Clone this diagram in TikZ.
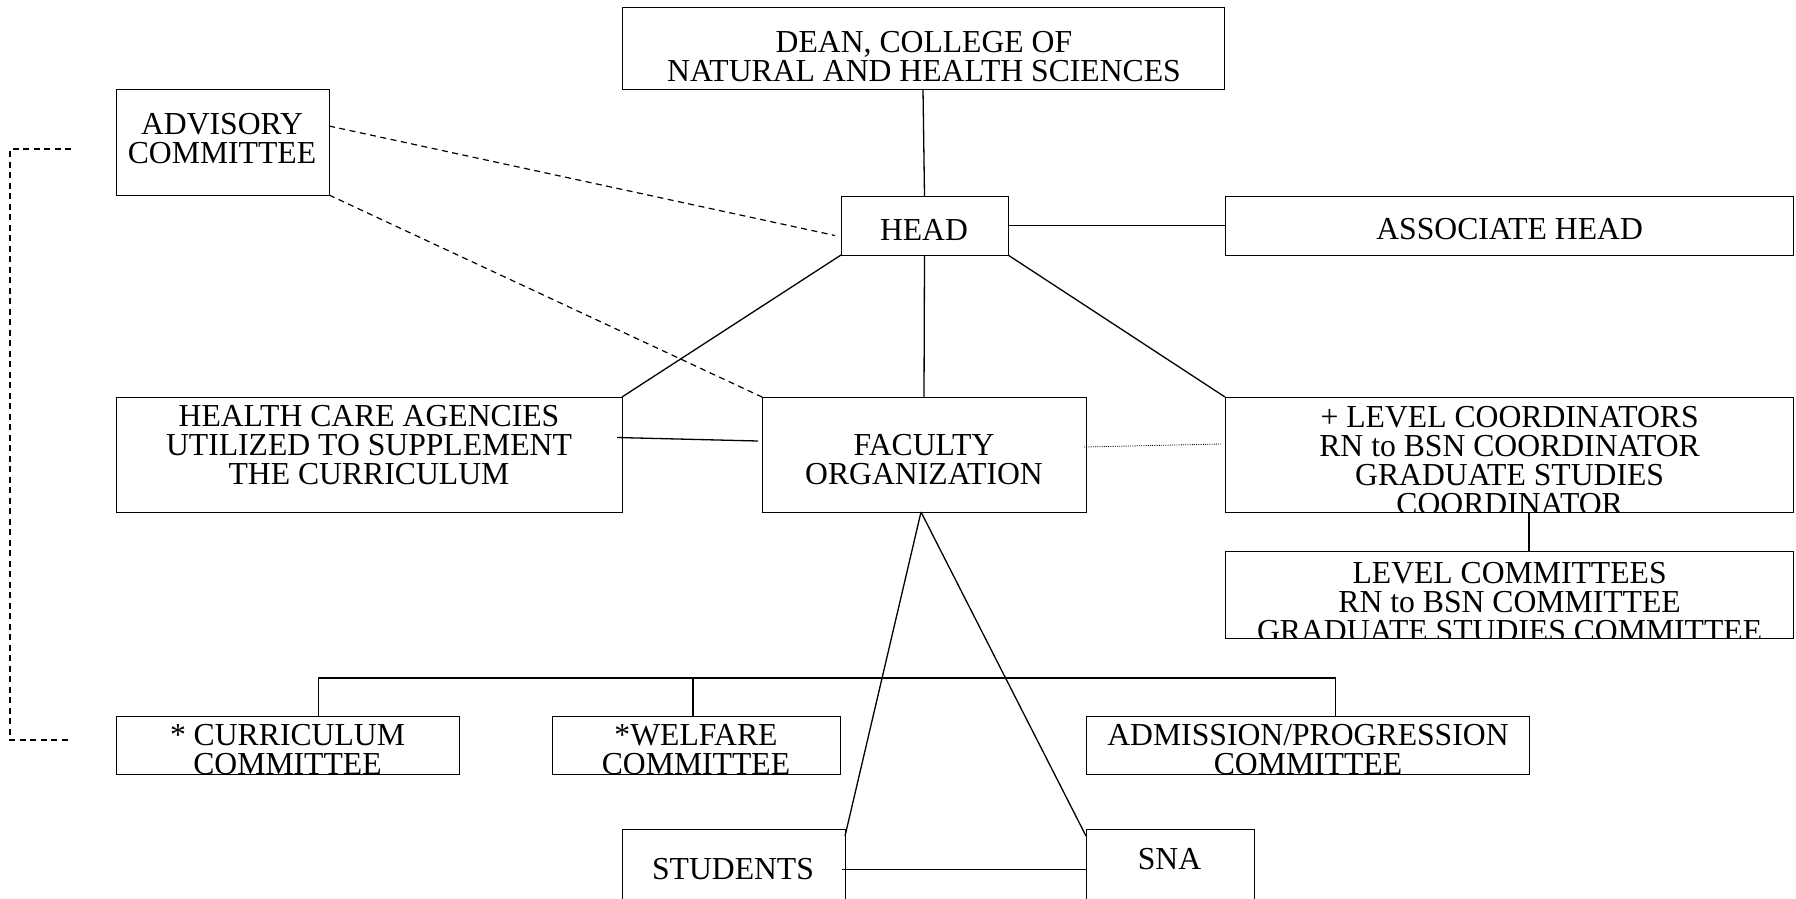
\documentclass[tikz,border=0pt]{standalone}
\usepackage{fontspec}
\setmainfont[FakeStretch=0.99]{Liberation Serif}
\begin{document}
\begin{tikzpicture}[x=1pt,y=-1pt,
  box/.style={draw, line width=1pt, inner sep=0pt, outer sep=0pt, rectangle},
  txt/.style={align=center, inner sep=0pt, font=\fontsize{32}{29}\selectfont},
  conn/.style={line width=1.3pt},
  dsh/.style={line width=1.2pt, dash pattern=on 6pt off 4.5pt},
  dotl/.style={line width=0.8pt, dash pattern=on 1pt off 1.2pt}]
\useasboundingbox (0,0) rectangle (1796,898);
\clip (0,0) rectangle (1796,898);
\fill[white] (0,0) rectangle (1796,898);

% boxes
\node[box, minimum width=602pt, minimum height=82pt] (dean) at (923,48) {};
\node[box, minimum width=213pt, minimum height=106pt] (adv) at (222.5,142) {};
\node[box, minimum width=167pt, minimum height=59pt] (head) at (924.5,225.5) {};
\node[box, minimum width=568pt, minimum height=59pt] (assoc) at (1509,225.5) {};
\node[box, minimum width=506pt, minimum height=115pt] (health) at (369,454.5) {};
\node[box, minimum width=324pt, minimum height=115pt] (fac) at (924,454.5) {};
\node[box, minimum width=568pt, minimum height=115pt] (lc) at (1509,454.5) {};
\node[box, minimum width=568pt, minimum height=87pt] (lcom) at (1509,594.5) {};
\node[box, minimum width=343pt, minimum height=58pt] (cur) at (287.5,745) {};
\node[box, minimum width=288pt, minimum height=58pt] (wel) at (696,745) {};
\node[box, minimum width=443pt, minimum height=58pt] (adm) at (1307.5,745) {};
\node[box, minimum width=223pt, minimum height=81pt] (stu) at (733.5,869.5) {};
\node[box, minimum width=168pt, minimum height=81pt] (sna) at (1170,869.5) {};

% texts
\node[txt] (dean-t) at (924,57) {DEAN, COLLEGE OF\\NATURAL AND HEALTH SCIENCES};
\node[txt] (adv-t) at (222,139) {ADVISORY\\COMMITTEE};
\node[txt] (head-t) at (924,229.5) {HEAD};
\node[txt] (assoc-t) at (1509.6,229.5) {ASSOCIATE HEAD};
\node[txt] (health-t) at (369,445) {HEALTH CARE AGENCIES\\UTILIZED TO SUPPLEMENT\\THE CURRICULUM};
\node[txt] (fac-t) at (924,460) {FACULTY\\ORGANIZATION};
\begin{scope}
\clip (lc.south west) rectangle (lc.north east);
\node[txt] (lc-t) at (1509.6,461) {+ LEVEL COORDINATORS\\RN to BSN COORDINATOR\\GRADUATE STUDIES\\COORDINATOR};
\end{scope}
\begin{scope}
\clip (lcom.south west) rectangle (lcom.north east);
\node[txt] (lcom-t) at (1509.6,602) {LEVEL COMMITTEES\\RN to BSN COMMITTEE\\GRADUATE STUDIES COMMITTEE};
\end{scope}
\begin{scope}
\clip (cur.south west) rectangle (adm.north east);
\node[txt] (cur-t) at (287.5,750) {* CURRICULUM\\COMMITTEE};
\node[txt] (wel-t) at (696,750) {*WELFARE\\COMMITTEE};
\node[txt] (adm-t) at (1308,750) {ADMISSION/PROGRESSION\\COMMITTEE};
\end{scope}
\node[txt] (stu-t) at (733,869.5) {STUDENTS};
\node[txt] (sna-t) at (1169.5,859.5) {SNA};

% connectors
\draw[conn] (dean.south) -- (head.north);
\draw[conn] (head.east) -- (assoc.west);
\draw[conn] (head.south) -- (fac.north);
\draw[conn] (head.south west) -- (health.north east);
\draw[conn] (head.south east) -- (lc.north west);
\draw[dsh] ([yshift=16pt]adv.east) -- ([yshift=-10pt,xshift=-6pt]head.west);
\draw[dsh] (adv.south east) -- (fac.north west);
\draw[conn] ([yshift=17pt,xshift=-5pt]health.east) -- ([yshift=13.5pt,xshift=-4pt]fac.west);
\draw[dotl] ([yshift=7.5pt,xshift=-2pt]fac.east) -- ([yshift=10.5pt,xshift=-4pt]lc.west);
\draw[conn] ([xshift=20pt]lc.south) -- ([xshift=20pt]lcom.north);
\draw[conn] ([xshift=31pt]cur.north) |- ([xshift=28pt,yshift=38pt]adm.north) -- ([xshift=28pt]adm.north);
\draw[conn] ([xshift=-3pt]wel.north) -- ([xshift=-3pt,yshift=38pt]wel.north);
\draw[conn] ([xshift=-3pt]fac.south) -- ([yshift=-7pt]stu.north east);
\draw[conn] ([xshift=-3pt]fac.south) -- ([yshift=-7pt]sna.north west);
\draw[conn] ([xshift=-3pt]stu.east) -- (sna.west);

% dashed bracket
\coordinate (bt) at (71,149);
\coordinate (bb) at (71,740);
\draw[dsh] (bt) -- (10,149) -- (10,740) -- (bb);
\end{tikzpicture}
\end{document}
